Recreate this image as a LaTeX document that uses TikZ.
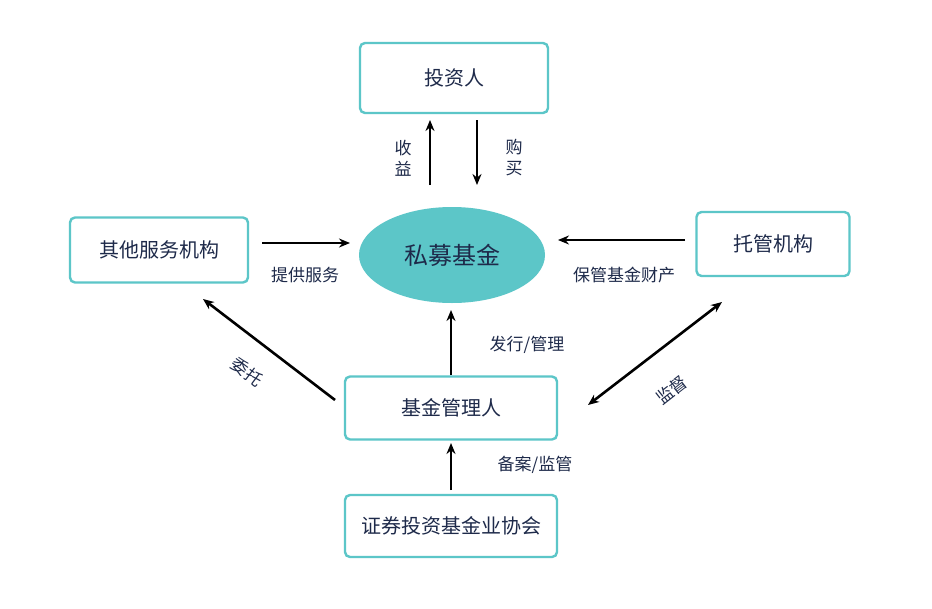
\documentclass[tikz,border=0pt]{standalone}
\usepackage{fontspec}
\setmainfont{Noto Sans CJK SC}
\usetikzlibrary{arrows.meta,shapes.geometric}
\definecolor{teal1}{HTML}{5CC6C8}
\definecolor{ink}{HTML}{1E2A4A}
\tikzset{
 box/.style={draw=teal1,line width=2.4pt,rounded corners=5pt,fill=white,text=ink,font=\fontsize{20}{24}\selectfont,anchor=center},
 lab/.style={text=ink,font=\fontsize{17}{21}\selectfont},
 arr/.style={-{Stealth[length=11pt,width=9pt]},line width=2.6pt,black},
}
\begin{document}
\begin{tikzpicture}[x=1pt,y=-1pt]
\useasboundingbox[fill=white] (0,0) rectangle (932,608);
\node[box,minimum width=188pt,minimum height=70pt] (inv) at (454,78) {投资人};
\node[box,minimum width=178pt,minimum height=65pt] (oth) at (159,250) {其他服务机构};
\node[box,minimum width=153pt,minimum height=64pt] (cus) at (773,244) {托管机构};
\node[ellipse,fill=teal1,minimum width=186pt,minimum height=96pt,text=ink,font=\fontsize{24}{28}\selectfont] (fund) at (452,255) {私募基金};
\node[box,minimum width=212pt,minimum height=63pt] (mgr) at (451,408) {基金管理人};
\node[box,minimum width=212pt,minimum height=62pt] (asc) at (451,526) {证券投资基金业协会};
\coordinate (a1) at (430,185); \coordinate (a2) at (430,120);
\draw[arr] (a1) -- (a2);
\coordinate (b1) at (477,120); \coordinate (b2) at (477,185);
\draw[arr] (b1) -- (b2);
\node[lab,align=center] (l1) at (403,158) {收\\益};
\node[lab,align=center] (l2) at (514,158) {购\\买};
\coordinate (c1) at (262,243); \coordinate (c2) at (350,243);
\draw[arr] (c1) -- (c2);
\node[lab] (l3) at (305,275) {提供服务};
\coordinate (d1) at (685,240); \coordinate (d2) at (558,240);
\draw[arr] (d1) -- (d2);
\node[lab] (l4) at (624,275) {保管基金财产};
\coordinate (e1) at (451,375); \coordinate (e2) at (451,310);
\draw[arr] (e1) -- (e2);
\node[lab] (l5) at (527,345) {发行/管理};
\coordinate (f1) at (335,400); \coordinate (f2) at (203,299);
\draw[arr] (f1) -- (f2);
\node[lab,rotate=-37,inner sep=0pt] (l6) at (247,372) {委托};
\coordinate (g1) at (588,405); \coordinate (g2) at (722,302);
\draw[arr,{Stealth[length=11pt,width=9pt]}-{Stealth[length=11pt,width=9pt]}] (g1) -- (g2);
\node[lab,rotate=38,inner sep=0pt] (l7) at (672,390) {监督};
\coordinate (h1) at (451,490); \coordinate (h2) at (451,443);
\draw[arr] (h1) -- (h2);
\node[lab] (l8) at (535,465) {备案/监管};
\end{tikzpicture}
\end{document}
